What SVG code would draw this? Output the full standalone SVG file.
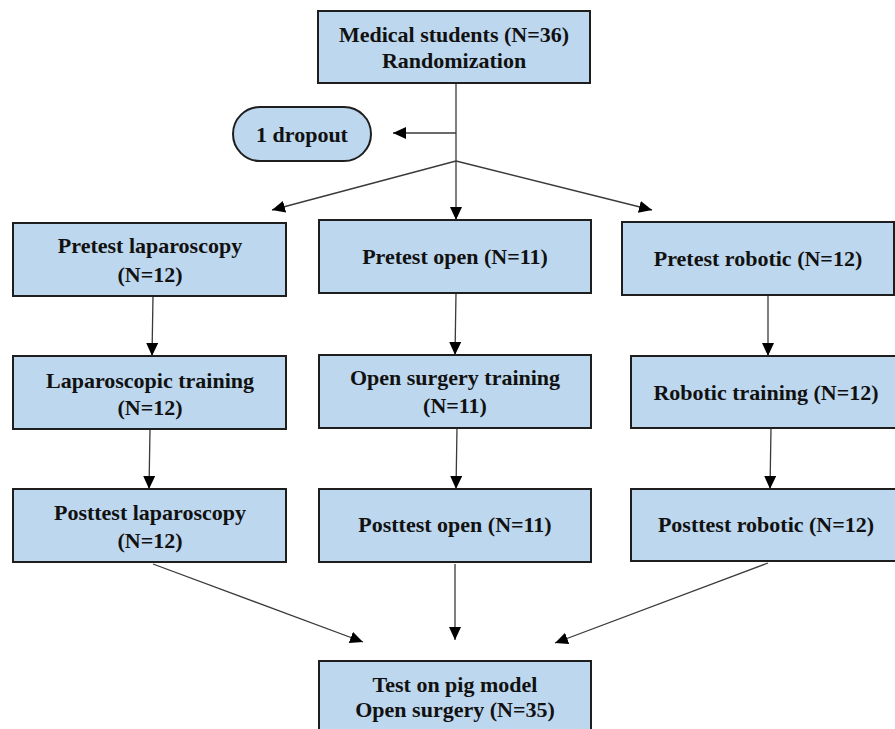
<svg xmlns="http://www.w3.org/2000/svg" width="895" height="729" viewBox="0 0 895 729">
<defs>
<style>
.box{fill:#bdd7ee;stroke:#1e1e1e;stroke-width:2}
.t{font-family:"Liberation Serif","Times New Roman",serif;font-weight:bold;font-size:22px;fill:#111;text-anchor:middle}
.c{stroke:#3a3a3a;stroke-width:1.3;fill:none}
</style>
<marker id="ah" markerUnits="userSpaceOnUse" markerWidth="14" markerHeight="12" refX="13" refY="6" orient="auto">
<path d="M0,0 L13,6 L0,12 Z" fill="#000"/>
</marker>
</defs>
<rect width="895" height="729" fill="#fff"/>
<g id="connectors">
<line class="c" x1="456" y1="83" x2="456" y2="220" marker-end="url(#ah)"/>
<line class="c" x1="456" y1="133" x2="393" y2="133" marker-end="url(#ah)"/>
<line class="c" x1="456" y1="161" x2="272" y2="210" marker-end="url(#ah)"/>
<line class="c" x1="456" y1="161" x2="652" y2="210" marker-end="url(#ah)"/>
<line class="c" x1="153" y1="296" x2="152" y2="356" marker-end="url(#ah)"/>
<line class="c" x1="150" y1="429" x2="149" y2="489" marker-end="url(#ah)"/>
<line class="c" x1="456" y1="293" x2="455" y2="355" marker-end="url(#ah)"/>
<line class="c" x1="457" y1="428" x2="456" y2="489" marker-end="url(#ah)"/>
<line class="c" x1="768" y1="295" x2="768" y2="356" marker-end="url(#ah)"/>
<line class="c" x1="771" y1="428" x2="770" y2="489" marker-end="url(#ah)"/>
<line class="c" x1="153" y1="564" x2="363" y2="642" marker-end="url(#ah)"/>
<line class="c" x1="455" y1="564" x2="455" y2="640" marker-end="url(#ah)"/>
<line class="c" x1="768" y1="563" x2="555" y2="643" marker-end="url(#ah)"/>
</g>
<g id="n-students">
<rect class="box" x="318" y="11" width="272" height="72"/>
<text class="t" x="454" y="42">Medical students (N=36)</text>
<text class="t" x="454" y="68">Randomization</text>
</g>
<g id="n-dropout">
<rect class="box" x="233" y="107" width="138" height="54" rx="27" ry="27"/>
<text class="t" x="302" y="142">1 dropout</text>
</g>
<g id="n-pre-lap">
<rect class="box" x="13" y="223" width="273" height="73"/>
<text class="t" x="150" y="253">Pretest laparoscopy</text>
<text class="t" x="150" y="282">(N=12)</text>
</g>
<g id="n-pre-open">
<rect class="box" x="319" y="220" width="272" height="73"/>
<text class="t" x="455" y="264">Pretest open (N=11)</text>
</g>
<g id="n-pre-rob">
<rect class="box" x="622" y="222" width="272" height="73"/>
<text class="t" x="758" y="266">Pretest robotic (N=12)</text>
</g>
<g id="n-train-lap">
<rect class="box" x="13" y="356" width="273" height="73"/>
<text class="t" x="150" y="388">Laparoscopic training</text>
<text class="t" x="150" y="415">(N=12)</text>
</g>
<g id="n-train-open">
<rect class="box" x="319" y="355" width="272" height="73"/>
<text class="t" x="455" y="385">Open surgery training</text>
<text class="t" x="455" y="413">(N=11)</text>
</g>
<g id="n-train-rob">
<rect class="box" x="631" y="356" width="272" height="72"/>
<text class="t" x="766" y="400">Robotic training (N=12)</text>
</g>
<g id="n-post-lap">
<rect class="box" x="13" y="489" width="273" height="73"/>
<text class="t" x="150" y="520">Posttest laparoscopy</text>
<text class="t" x="150" y="548">(N=12)</text>
</g>
<g id="n-post-open">
<rect class="box" x="319" y="489" width="272" height="73"/>
<text class="t" x="455" y="532">Posttest open (N=11)</text>
</g>
<g id="n-post-rob">
<rect class="box" x="631" y="489" width="272" height="72"/>
<text class="t" x="766" y="532">Posttest robotic (N=12)</text>
</g>
<g id="n-pig">
<rect class="box" x="319" y="661" width="272" height="80"/>
<text class="t" x="455" y="692">Test on pig model</text>
<text class="t" x="455" y="717">Open surgery (N=35)</text>
</g>
</svg>
